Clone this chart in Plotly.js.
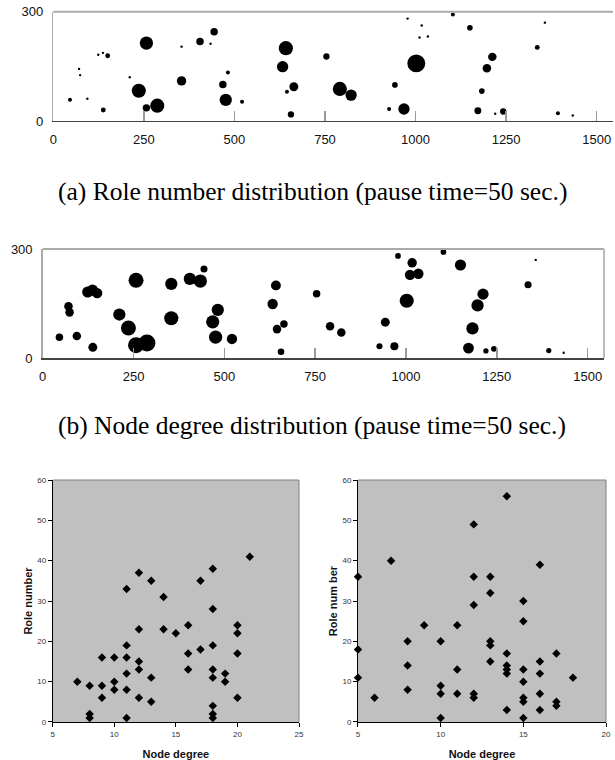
<!DOCTYPE html>
<html>
<head>
<meta charset="utf-8">
<script src="https://cdn.plot.ly/plotly-3.0.1.min.js"></script>
<style>html,body{margin:0;padding:0;background:#fff;}#chart{width:615px;height:760px;}</style>
</head>
<body>
<div id="chart"></div>
<script>
// Node positions (m) in the 1500 x 300 area, shared by (a) and (b)
const nodeX = [46, 71, 74, 94, 124, 137, 150, 138, 211, 236, 257, 257, 287, 354, 354, 405, 434, 444, 468, 482,
               476, 521, 642, 633, 664, 645, 656, 754, 791, 822, 927, 943, 968, 1002, 978, 1017, 1011, 1034, 1103, 1150,
               1172, 1183, 1197, 1212, 1220, 1242, 1336, 1357, 1393, 1434];
const nodeY = [58, 143, 126, 61, 182, 187, 179, 30, 120, 83, 214, 36, 42, 110, 204, 218, 212, 245, 100, 133,
               58, 53, 200, 149, 94, 80, 18, 177, 88, 71, 33, 99, 33, 158, 281, 262, 229, 232, 292, 256,
               28, 82, 145, 176, 20, 26, 202, 270, 21, 15];
// (a) role number of each node (bubble size)
const roleNumber = [2, 0.5, 0.5, 0.5, 0.3, 0.5, 3, 3, 0.5, 25, 22, 7, 25, 11, 0.5, 7, 0.5, 7, 7, 2,
                    19, 2, 25, 16, 10, 2, 5, 5, 25, 16, 2, 4, 16, 40, 0.5, 0.5, 0.5, 0.5, 2, 4,
                    6, 4, 9, 9, 0.5, 5, 3, 0.5, 2, 0.4];
// (b) node degree of each node (bubble size)
const nodeDegree = [4.5, 5.8, 5.8, 5.8, 10, 10, 8.6, 6.4, 12, 18, 18, 20.5, 23, 16, 12, 12, 14, 4, 14, 12,
                    14, 8.6, 7.8, 8.6, 4.5, 5.8, 3.5, 4.5, 5.8, 5.8, 3, 6.4, 5.2, 16, 2.6, 7.1, 8.6, 8.6, 2.6, 10,
                    9.4, 12, 12, 10, 2.2, 2.6, 4, 0.4, 2.2, 0.4];
const posTicks = [0, 250, 500, 750, 1000, 1250, 1500];
const heightTicks = [0, 300];

// Bottom-left scatter: node degree vs role number
const leftDegree = [7, 8, 8, 8, 9, 9, 9, 10, 10, 10, 11, 11, 11, 11, 11, 11, 12, 12, 12, 12, 12,
                    13, 13, 13, 14, 14, 15, 16, 16, 16, 17, 17, 18, 18, 18, 18, 18, 18, 18, 18,
                    19, 19, 20, 20, 20, 20, 21];
const leftRole = [10, 9, 2, 1, 16, 9, 6, 16, 10, 8, 33, 19, 16, 12, 8, 1, 37, 23, 15, 13, 6,
                  35, 11, 5, 31, 23, 22, 24, 17, 13, 35, 18, 38, 28, 19, 13, 11, 4, 2, 1,
                  12, 10, 24, 22, 17, 6, 41];
// Bottom-right scatter: node degree vs role number
const rightDegree = [5, 5, 5, 6, 7, 8, 8, 8, 9, 10, 10, 10, 10, 11, 11, 11, 12, 12, 12, 12, 12,
                     13, 13, 13, 13, 13, 14, 14, 14, 14, 14, 14, 15, 15, 15, 15, 15, 15, 15,
                     16, 16, 16, 16, 16, 17, 17, 17, 18];
const rightRole = [36, 18, 11, 6, 40, 20, 14, 8, 24, 20, 9, 7, 1, 24, 13, 7, 49, 36, 29, 7, 6,
                   36, 32, 20, 19, 15, 56, 17, 14, 13, 12, 3, 30, 25, 13, 10, 6, 5, 1,
                   39, 15, 12, 7, 3, 17, 5, 4, 11];

const sansFont = 'Liberation Sans, Arial, sans-serif';
const serifFont = 'Liberation Serif, Times New Roman, serif';

const traces = [
  {type: 'scatter', mode: 'markers', x: nodeX, y: nodeY, xaxis: 'x', yaxis: 'y', cliponaxis: false,
   marker: {size: roleNumber, sizemode: 'area', sizeref: 0.25, sizemin: 1.2, color: '#000', opacity: 1, line: {width: 0}}},
  {type: 'scatter', mode: 'markers', x: nodeX, y: nodeY, xaxis: 'x2', yaxis: 'y2', cliponaxis: false,
   marker: {size: nodeDegree, sizemode: 'area', sizeref: 0.16, sizemin: 1.2, color: '#000', opacity: 1, line: {width: 0}}},
  {type: 'scatter', mode: 'markers', x: leftDegree, y: leftRole, xaxis: 'x3', yaxis: 'y3', cliponaxis: false,
   marker: {symbol: 'diamond', size: 6.5, color: '#000', opacity: 1, line: {width: 0}}},
  {type: 'scatter', mode: 'markers', x: rightDegree, y: rightRole, xaxis: 'x4', yaxis: 'y4', cliponaxis: false,
   marker: {symbol: 'diamond', size: 6.5, color: '#000', opacity: 1, line: {width: 0}}}
];

function posAxis(domain, anchor) {
  return {domain: domain, anchor: anchor, range: [0, 1545], tickvals: posTicks, ticks: 'inside', ticklen: 10,
          tickwidth: 1.5, tickcolor: '#9a9a9a', showline: true, linecolor: '#444', linewidth: 1.5,
          showgrid: false, zeroline: false, ticklabelstandoff: 6,
          tickfont: {family: sansFont, size: 13, color: '#111'}};
}
function heightAxis(domain, anchor) {
  return {domain: domain, anchor: anchor, range: [0, 300], tickvals: heightTicks, ticks: '', showline: true,
          linecolor: '#aaa', linewidth: 1.5, showgrid: false, zeroline: false, ticklabelstandoff: 6,
          tickfont: {family: sansFont, size: 13, color: '#111'}};
}
function degAxis(domain, anchor, range) {
  return {domain: domain, anchor: anchor, range: range, dtick: 5, ticks: 'outside', ticklen: 4, tickcolor: '#000',
          showline: true, linecolor: '#000', linewidth: 1, showgrid: false, zeroline: false,
          tickfont: {family: sansFont, size: 8, color: '#333'},
          title: {text: 'Node degree', standoff: 12, font: {family: sansFont, size: 11, color: '#111', weight: 'bold'}}};
}
function roleAxis(domain, anchor, titleText) {
  return {domain: domain, anchor: anchor, range: [0, 60], dtick: 10, ticks: 'outside', ticklen: 4, tickcolor: '#000',
          showline: true, linecolor: '#000', linewidth: 1, showgrid: false, zeroline: false,
          tickfont: {family: sansFont, size: 8, color: '#333'},
          title: {text: titleText, standoff: 2, font: {family: sansFont, size: 11, color: '#111', weight: 'bold'}}};
}
function frameLine(xa, ya, x0, y0, x1, y1, color, w) {
  return {type: 'line', xref: xa + ' domain', yref: ya + ' domain', x0: x0, y0: y0, x1: x1, y1: y1,
          line: {color: color, width: w}};
}
function bgRect(xa, ya) {
  return {type: 'rect', xref: xa + ' domain', yref: ya + ' domain', x0: 0, y0: 0, x1: 1, y1: 1,
          fillcolor: '#c0c0c0', line: {width: 0}, layer: 'below'};
}

const layout = {
  width: 615, height: 760, margin: {l: 0, r: 0, t: 0, b: 0},
  paper_bgcolor: '#fff', plot_bgcolor: 'rgba(0,0,0,0)', showlegend: false,
  xaxis: posAxis([0.0867, 0.9967], 'y'),
  yaxis: heightAxis([0.8408, 0.9846], 'x'),
  xaxis2: posAxis([0.0694, 0.9821], 'y2'),
  yaxis2: heightAxis([0.5286, 0.6724], 'x2'),
  xaxis3: degAxis([0.0857, 0.4862], 'y3', [5, 25]),
  yaxis3: roleAxis([0.05, 0.3684], 'x3', 'Role number'),
  xaxis4: degAxis([0.5821, 0.9854], 'y4', [5, 20]),
  yaxis4: roleAxis([0.05, 0.3684], 'x4', 'Role num ber'),
  shapes: [
    frameLine('x', 'y', 0, 1, 1, 1, '#aaa', 2),
    frameLine('x2', 'y2', 0, 1, 1, 1, '#aaa', 2),
    frameLine('x2', 'y2', 1, 0, 1, 1, '#bbb', 2),
    bgRect('x3', 'y3'), bgRect('x4', 'y4'),
    frameLine('x3', 'y3', 0, 1, 1, 1, '#808080', 1),
    frameLine('x3', 'y3', 1, 0, 1, 1, '#808080', 1),
    frameLine('x4', 'y4', 0, 1, 1, 1, '#808080', 1),
    frameLine('x4', 'y4', 1, 0, 1, 1, '#808080', 1)
  ],
  annotations: [
    {text: '(a) Role number distribution (pause time=50 sec.)', xref: 'paper', yref: 'paper', x: 0.508, y: 0.748,
     xanchor: 'center', yanchor: 'middle', showarrow: false, font: {family: serifFont, size: 25.5, color: '#000'}},
    {text: '(b) Node degree distribution (pause time=50 sec.)', xref: 'paper', yref: 'paper', x: 0.508, y: 0.4395,
     xanchor: 'center', yanchor: 'middle', showarrow: false, font: {family: serifFont, size: 25.5, color: '#000'}}
  ]
};

Plotly.newPlot('chart', traces, layout, {staticPlot: true, displayModeBar: false});
</script>
</body>
</html>
